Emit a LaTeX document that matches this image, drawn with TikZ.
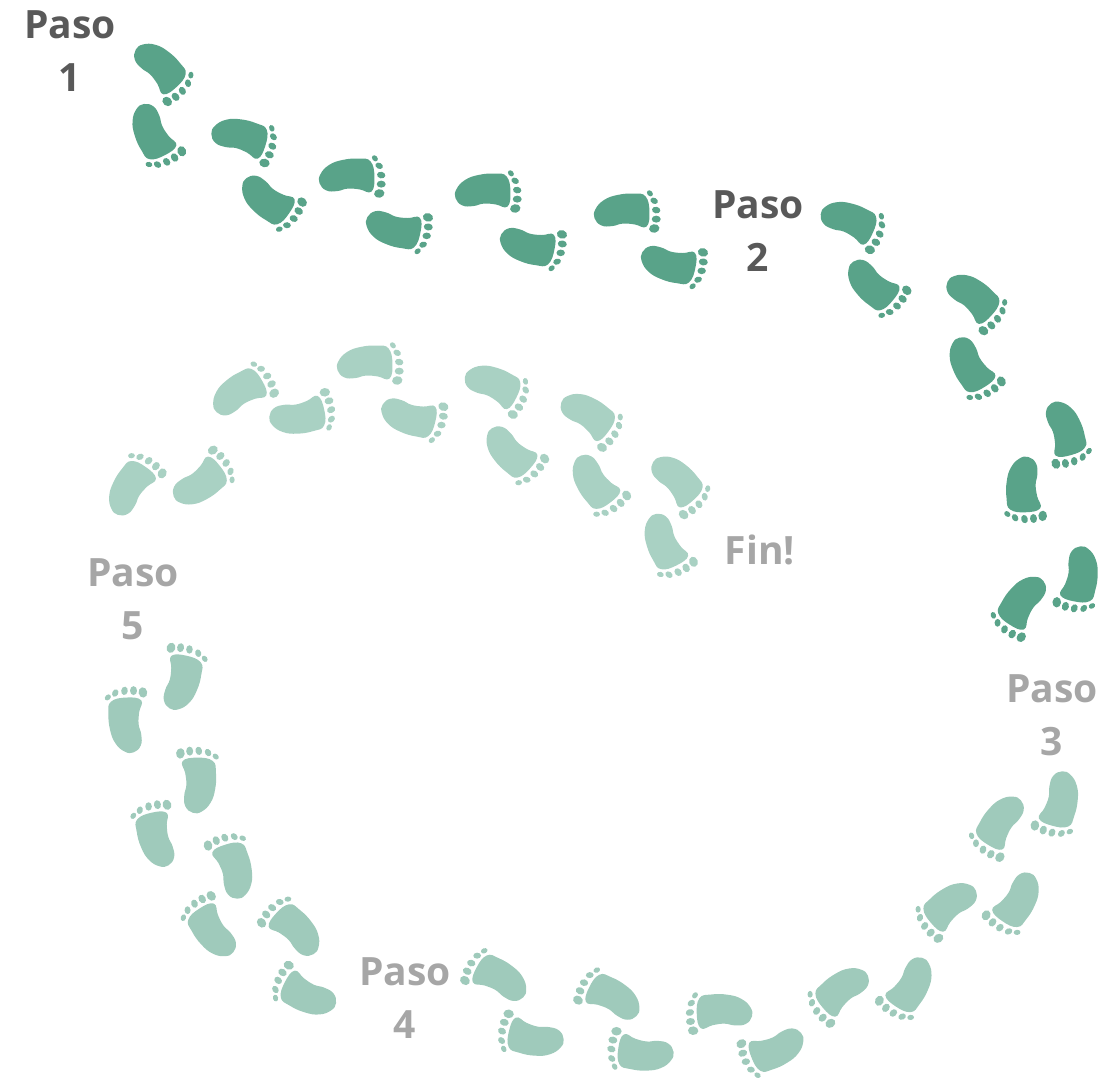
\documentclass[tikz,border=0pt]{standalone}
\usepackage{fontspec}
\setmainfont{Open Sans}
\definecolor{stepdark}{HTML}{59A389}
\definecolor{steppale}{HTML}{9FCABB}
\definecolor{stepmist}{HTML}{A9D1C3}
\definecolor{labeldark}{HTML}{595959}
\definecolor{labellight}{HTML}{A6A6A6}
% place one footprint: style, x, y, clockwise angle of the toes from "up", +1 right foot / -1 left foot
\newcommand\printfoot[5]{\pic[#1, rotate=-#4, xscale=#5] at (#2,#3) {foot};}
\begin{document}
\begin{tikzpicture}[x=1pt, y=-1pt,
  foot/.pic={
    % sole of a right foot, toes up
    \fill plot[smooth cycle, tension=0.75] coordinates
      {(-14,-26) (1,-27.5) (16,-22) (17.5,-10) (14.5,6) (8,19) (-2,26.5) (-11,26.5) (-17.5,19) (-17,8) (-13.5,-2) (-13,-14)};
    % toes, big toe on the left
    \fill[rotate around={-15:(-15,-34)}] (-15,-34) ellipse [x radius=4.3, y radius=5.2];
    \fill[rotate around={-5:(-5.5,-35)}] (-5.5,-35) ellipse [x radius=3.5, y radius=4.5];
    \fill[rotate around={5:(3.5,-34)}] (3.5,-34) ellipse [x radius=3.3, y radius=4.2];
    \fill[rotate around={22:(12.5,-31)}] (12.5,-31) ellipse [x radius=3.0, y radius=3.9];
    \fill[rotate around={42:(19.5,-26)}] (19.5,-26) ellipse [x radius=2.6, y radius=3.4];
  },
  darkfoot/.style={color=stepdark},
  palefoot/.style={color=steppale},
  mistfoot/.style={color=stepmist},
  steplabel/.style={font=\bfseries\fontsize{39}{53}\selectfont, align=center, inner sep=0pt},
  darklabel/.style={steplabel, text=labeldark},
  lightlabel/.style={steplabel, text=labellight},
]
\useasboundingbox (0,0) rectangle (1118,1077);

% first stretch, dark footprints
\printfoot{darkfoot}{160}{65}{145}{-1}
\printfoot{darkfoot}{150}{132}{145}{1}
\printfoot{darkfoot}{240}{135}{115}{-1}
\printfoot{darkfoot}{265}{200}{117}{1}
\printfoot{darkfoot}{347}{175}{96}{-1}
\printfoot{darkfoot}{393}{230}{94}{1}
\printfoot{darkfoot}{483}{190}{96}{-1}
\printfoot{darkfoot}{527}{247}{94}{1}
\printfoot{darkfoot}{622}{210}{96}{-1}
\printfoot{darkfoot}{668}{265}{94}{1}
\printfoot{darkfoot}{849}{219}{122}{-1}
\printfoot{darkfoot}{870}{285}{122}{1}
\printfoot{darkfoot}{973}{295}{140}{-1}
\printfoot{darkfoot}{968}{365}{140}{1}
\printfoot{darkfoot}{1066}{428}{172}{-1}
\printfoot{darkfoot}{1022}{485}{170}{1}
\printfoot{darkfoot}{1082}{575}{199}{-1}
\printfoot{darkfoot}{1022}{600}{205}{1}

% lower loop, pale footprints
\printfoot{palefoot}{1062}{800}{203}{-1}
\printfoot{palefoot}{1000}{820}{204}{1}
\printfoot{palefoot}{1020}{900}{222}{-1}
\printfoot{palefoot}{950}{903}{222}{1}
\printfoot{palefoot}{913}{985}{221}{-1}
\printfoot{palefoot}{842}{988}{222}{1}
\printfoot{palefoot}{778}{1050}{256}{-1}
\printfoot{palefoot}{724}{1010}{260}{1}
\printfoot{palefoot}{645}{1055}{286}{-1}
\printfoot{palefoot}{615}{997}{289}{1}
\printfoot{palefoot}{535}{1040}{291}{-1}
\printfoot{palefoot}{502}{978}{290}{1}
\printfoot{palefoot}{308}{997}{305}{-1}
\printfoot{palefoot}{298}{930}{305}{1}
\printfoot{palefoot}{212}{933}{335}{-1}
\printfoot{palefoot}{236}{870}{335}{1}
\printfoot{palefoot}{155}{840}{355}{-1}
\printfoot{palefoot}{200}{785}{352}{1}
\printfoot{palefoot}{125}{725}{5}{-1}
\printfoot{palefoot}{183}{683}{5}{1}

% last stretch, faint footprints
\printfoot{mistfoot}{128}{488}{43}{-1}
\printfoot{mistfoot}{200}{485}{44}{1}
\printfoot{mistfoot}{237}{392}{68}{-1}
\printfoot{mistfoot}{298}{418}{70}{1}
\printfoot{mistfoot}{365}{362}{96}{-1}
\printfoot{mistfoot}{408}{418}{96}{1}
\printfoot{mistfoot}{493}{383}{124}{-1}
\printfoot{mistfoot}{508}{452}{124}{1}
\printfoot{mistfoot}{588}{413}{134}{-1}
\printfoot{mistfoot}{592}{482}{135}{1}
\printfoot{mistfoot}{677}{478}{146}{-1}
\printfoot{mistfoot}{662}{542}{146}{1}

% step labels
\node[darklabel] (paso1) at (70,51) {Paso\\1};
\node[darklabel] (paso2) at (758,231) {Paso\\2};
\node[lightlabel] (paso3) at (1052,715) {Paso\\3};
\node[lightlabel] (paso4) at (405,998) {Paso\\4};
\node[lightlabel] (paso5) at (133,599) {Paso\\5};
\node[lightlabel] (fin) at (760,550) {Fin!};
\end{tikzpicture}
\end{document}
